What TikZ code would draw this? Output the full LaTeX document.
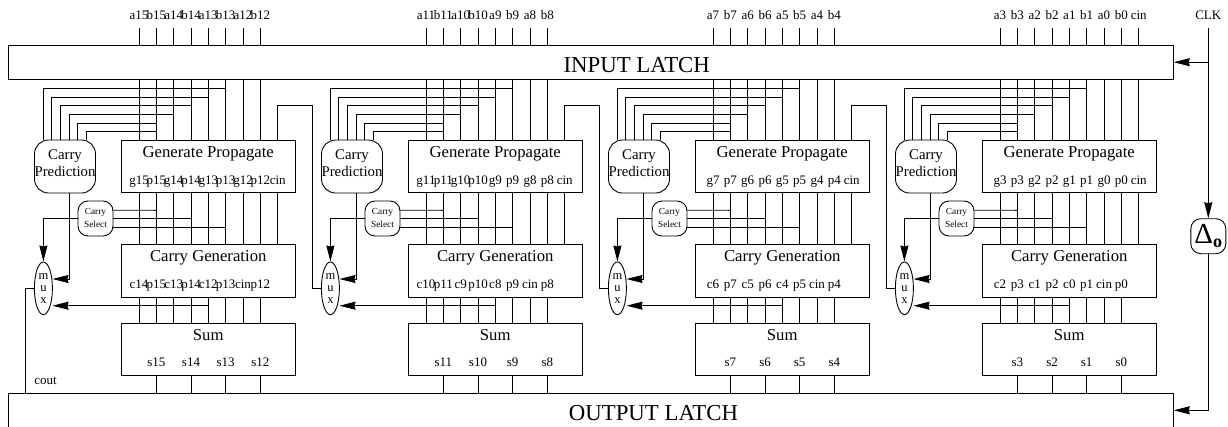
\documentclass[tikz,border=0pt]{standalone}
\usepackage{fontspec}
\setmainfont{Liberation Serif}
\usetikzlibrary{arrows.meta,shapes.geometric}
\tikzset{
  wire/.style={line width=0.9pt},
  arr/.style={line width=0.9pt,-{Stealth[length=16pt,width=8pt,inset=1pt]}},
  blockbox/.style={draw,line width=0.9pt,minimum width=173.5pt,minimum height=52.7pt,inner sep=0pt},
  latchbox/.style={draw,line width=0.9pt,minimum width=1165.3pt,minimum height=34.5pt,inner sep=0pt},
  predbox/.style={draw,line width=0.9pt,rounded corners=14pt,minimum width=61pt,minimum height=53pt,inner sep=0pt},
  selbox/.style={draw,line width=0.9pt,rounded corners=10pt,minimum width=35pt,minimum height=35pt,inner sep=0pt},
  muxbox/.style={draw,ellipse,line width=0.9pt,minimum width=18pt,minimum height=52.7pt,inner sep=0pt},
  lab/.style={anchor=base,inner sep=0pt,font=\fontsize{13}{13}\selectfont},
  title/.style={anchor=base,inner sep=0pt,font=\fontsize{16.7}{17}\selectfont},
  predtext/.style={inner sep=0pt,align=center,font=\fontsize{14.8}{17.5}\selectfont},
  seltext/.style={inner sep=0pt,align=center,font=\fontsize{9.3}{13}\selectfont},
  latchtext/.style={anchor=base,inner sep=0pt,font=\fontsize{22.8}{23}\selectfont},
}
\begin{document}
\begin{tikzpicture}[x=1pt,y=-1pt]
  \clip (0,0) rectangle (1228,426);
  \node[latchbox] (inlatch) at (590.65,62.2) {};
  \node[latchbox] (outlatch) at (590.65,410.3) {};
  \node[latchtext] (intext) at (636.7,72.7) {INPUT LATCH};
  \node[latchtext] (outtext) at (653.5,420) {OUTPUT LATCH};
  % one slice per 4 bits
  \foreach \u/\ox/\tl/\gl/\cl/\sl in {
    1/0/{a15,b15,a14,b14,a13,b13,a12,b12}/{g15,p15,g14,p14,g13,p13,g12,p12,cin}/{c14,p15,c13,p14,c12,p13,cin,p12}/{s15,s14,s13,s12},
    2/287/{a11,b11,a10,b10,a9,b9,a8,b8}/{g11,p11,g10,p10,g9,p9,g8,p8,cin}/{c10,p11,c9,p10,c8,p9,cin,p8}/{s11,s10,s9,s8},
    3/574/{a7,b7,a6,b6,a5,b5,a4,b4}/{g7,p7,g6,p6,g5,p5,g4,p4,cin}/{c6,p7,c5,p6,c4,p5,cin,p4}/{s7,s6,s5,s4},
    4/861/{a3,b3,a2,b2,a1,b1,a0,b0,cin}/{g3,p3,g2,p2,g1,p1,g0,p0,cin}/{c2,p3,c1,p2,c0,p1,cin,p0}/{s3,s2,s1,s0}} {
    \node[blockbox] (gp\u) at (208.25+\ox,166.4) {};
    \node[blockbox] (cg\u) at (208.25+\ox,270.9) {};
    \node[blockbox] (sum\u) at (208.25+\ox,349.3) {};
    \node[title] (gpt\u) at (208.25+\ox,157.7) {Generate Propagate};
    \node[title] (cgt\u) at (208.25+\ox,261.7) {Carry Generation};
    \node[title] (sumt\u) at (208.25+\ox,340) {Sum};
    \node[predbox] (cp\u) at (65+\ox,166.5) {};
    \node[predtext] (cpt\u) at (65+\ox,163.4) {Carry\\Prediction};
    \node[selbox] (cs\u) at (95.5+\ox,218.5) {};
    \node[seltext] (cst\u) at (95.5+\ox,217.5) {Carry\\Select};
    \node[muxbox,align=center,font=\fontsize{12.5}{12}\selectfont] (mux\u) at (43.4+\ox,288.3) {m\\u\\x};
    % wire columns
    \foreach \k in {1,...,9} \coordinate (w\u-\k) at (139+\ox+17.34*\k-17.34,28);
    \foreach \t [count=\k] in \tl {
      \node[lab] (top\u-\k) at (w\u-\k |- 0,19.3) {\t};
      \draw[wire] (w\u-\k) -- (w\u-\k |- inlatch.north);
      \draw[wire] (w\u-\k |- inlatch.south) -- (w\u-\k |- gp\u.north);
    }
    \foreach \t [count=\k] in \gl {
      \node[lab] (g\u-\k) at (w\u-\k |- 0,184) {\t};
      \draw[wire] (w\u-\k |- gp\u.south) -- (w\u-\k |- cg\u.north);
    }
    \foreach \t [count=\k] in \cl {
      \node[lab] (c\u-\k) at (w\u-\k |- 0,288) {\t};
      \draw[wire] (w\u-\k |- cg\u.south) -- (w\u-\k |- sum\u.north);
    }
    \foreach \t [count=\i] in \sl {
      \pgfmathtruncatemacro{\k}{2*\i}
      \node[lab] (s\u-\i) at (w\u-\k |- 0,366.7) {\t};
      \draw[wire] (w\u-\k |- sum\u.south) -- (w\u-\k |- outlatch.north);
    }
    % carry prediction inputs
    \foreach \k/\y [count=\i from 0] in {6/88.3,5/97,4/105.7,3/114.3,2/123,2/131.5} {
      \coordinate (pin\u-\i) at (43.3+\ox+8.6*\i,140);
      \draw[wire] (w\u-\k |- 0,\y) -| (pin\u-\i);
    }
    % carry select
    \draw[wire] ([yshift=8.3pt]cs\u.east) -- (w\u-2 |- 0,210.3);
    \draw[wire] (cs\u.east) -- (w\u-4 |- cs\u.east);
    \draw[wire] ([yshift=-8.8pt]cs\u.east) -- (w\u-6 |- 0,227.3);
    \draw[arr] (cs\u.west) -| (mux\u.north);
    % into the mux
    \coordinate (mxa\u) at (52.5+\ox,279);
    \coordinate (mxb\u) at (52.5+\ox,305.7);
    \draw[arr] ([xshift=4pt]cp\u.south) |- (mxa\u);
    \draw[arr] (w\u-5 |- mxb\u) -- (mxb\u);
  }
  % carry between slices
  \foreach \u/\v/\ox in {1/2/0,2/3/287,3/4/574} {
    \coordinate (turn\u) at (312.5+\ox,105.5);
    \draw[wire] (w\u-9 |- gp\u.north) |- (turn\u) |- (mux\v.west);
  }
  \coordinate (coutend) at (25.7,393);
  \draw[wire] (mux1.west) -| (coutend);
  \node[lab] (cout) at (45.5,384) {cout};
  % clock
  \node[lab] (clk) at (1208.3,19.3) {CLK};
  \coordinate (clktop) at (1208.3,28);
  \node[selbox] (dly) at (1208.3,236.2) {\fontsize{29}{29}\selectfont\raisebox{4pt}{Δ}\fontsize{18}{18}\selectfont\textbf{o}};
  \draw[arr] (clktop) -- (dly.north);
  \draw[arr] (clktop |- inlatch.east) -- (inlatch.east);
  \draw[arr] (dly.south) |- (outlatch.east);
\end{tikzpicture}
\end{document}
